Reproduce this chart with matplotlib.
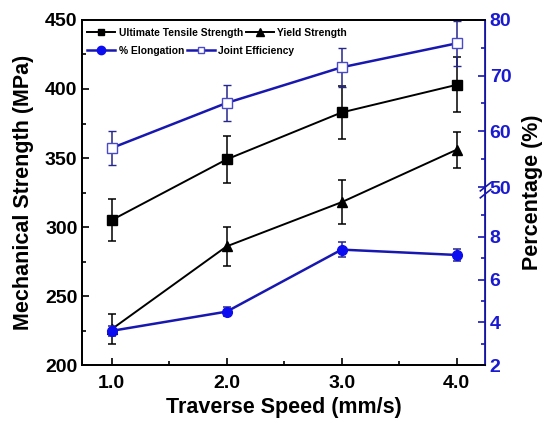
import numpy as np
import matplotlib
matplotlib.use("Agg")
import matplotlib.pyplot as plt
from matplotlib.lines import Line2D

plt.rcParams['font.family'] = ['Liberation Sans', 'DejaVu Sans']
plt.rcParams['font.weight'] = 'bold'
plt.rcParams['axes.labelweight'] = 'bold'

# data
speed = [1.0, 2.0, 3.0, 4.0]
uts = [305, 349, 383, 403]
uts_err = [15, 17, 19, 20]
ys = [226, 286, 318, 356]
ys_err = [11, 14, 16, 13]
elong = [3.6, 4.5, 7.4, 7.15]
elong_err = [0.25, 0.2, 0.35, 0.3]
je = [57.0, 65.1, 71.5, 75.8]
je_err = [3.0, 3.2, 3.5, 4.0]

BLUE = '#1818b0'
MARK_BLUE = '#0c0cf0'
ERR_BLUE = '#26268c'
TXT_BLUE = '#1a1ad2'

# broken right axis: 2-10 on the lower part, 50-80 on the upper part
brk_p = [-100, 2, 10, 50, 80, 200]
brk_v = [-2180.25, 0, 171, 178, 345, 1013]


def fwd(p):
    return np.interp(p, brk_p, brk_v)


def inv(v):
    return np.interp(v, brk_v, brk_p)


fig = plt.figure(figsize=(5.49, 4.25), dpi=100)
ax = fig.add_axes([0.150, 0.141, 0.733, 0.812])
ax2 = ax.twinx()

ebar_kw = dict(capsize=3.2, elinewidth=1.1, capthick=1.1)
ax.errorbar(speed, uts, yerr=uts_err, color='k', marker='s', ms=6.5, lw=1.4, **ebar_kw)
ax.errorbar(speed, ys, yerr=ys_err, color='k', marker='^', ms=7, lw=1.4, **ebar_kw)

ax2.set_yscale('function', functions=(fwd, inv))
ax2.errorbar(speed, elong, yerr=elong_err, color=BLUE, marker='o', ms=7,
             mfc=MARK_BLUE, mec=MARK_BLUE, ecolor=ERR_BLUE, lw=1.8, **ebar_kw)
ax2.errorbar(speed, je, yerr=je_err, color=BLUE, marker='s', ms=6.5, mfc='white',
             mec='#4a4ac8', mew=1.0, ecolor=ERR_BLUE, lw=1.8, **ebar_kw)

ax.set_xlim(0.745, 4.245)
ax.set_ylim(200, 450)
ax2.set_ylim(2, 80)

ax.set_xticks(speed)
ax.set_xticklabels(['1.0', '2.0', '3.0', '4.0'])
ax.set_xticks([1.5, 2.5, 3.5], minor=True)
ax.set_yticks(np.arange(200, 451, 50))
ax.set_yticks(np.arange(225, 450, 50), minor=True)
ax2.set_yticks([2, 4, 6, 8, 50, 60, 70, 80])
ax2.set_yticklabels(['2', '4', '6', '8', '50', '60', '70', '80'])
ax2.set_yticks([3, 5, 7, 9, 55, 65, 75], minor=True)
ax2.yaxis.set_minor_formatter(plt.NullFormatter())

ax.tick_params(which='both', direction='in', labelsize=14, width=1.2, top=False, right=False)
ax.tick_params(which='major', length=5)
ax.tick_params(which='minor', length=3)
ax.tick_params(axis='x', pad=7)
ax2.tick_params(which='both', direction='in', labelsize=14, width=1.2,
                color=BLUE, labelcolor=TXT_BLUE)
ax2.tick_params(which='major', length=5)
ax2.tick_params(which='minor', length=3)

for s in ['left', 'bottom', 'top']:
    ax.spines[s].set_linewidth(1.3)
    ax2.spines[s].set_linewidth(1.3)
ax2.spines['right'].set_color(BLUE)
ax2.spines['right'].set_linewidth(1.3)

ax.set_xlabel('Traverse Speed (mm/s)', fontsize=15.5, labelpad=4)
ax.set_ylabel('Mechanical Strength (MPa)', fontsize=15.5, labelpad=8)
ax2.set_ylabel('Percentage (%)', fontsize=15.5, labelpad=8)

# break marks on the right spine
yb = 175.5 / 345
for dy in (-0.012, 0.008):
    ax2.plot([0.989, 1.015], [yb + dy - 0.012, yb + dy + 0.012], color=BLUE,
             lw=1.2, transform=ax2.transAxes, clip_on=False)

# Origin-style two-row legend
h_uts = Line2D([], [], color='k', marker='s', ms=5, lw=1.4)
h_ys = Line2D([], [], color='k', marker='^', ms=6, lw=1.4)
h_el = Line2D([], [], color=BLUE, marker='o', ms=6, mfc=MARK_BLUE, mec=MARK_BLUE, lw=1.8)
h_je = Line2D([], [], color=BLUE, marker='s', ms=5, mfc='white', mec='#4a4ac8', lw=1.8)
leg_kw = dict(ncol=2, frameon=False, prop={'weight': 'bold', 'size': 7.4},
              handlelength=2.7, handletextpad=0.35, columnspacing=0.3,
              borderpad=0, borderaxespad=0, loc='center left')
leg1 = ax2.legend([h_uts, h_ys], ['Ultimate Tensile Strength', 'Yield Strength'],
                  bbox_to_anchor=(0.012, 0.962), **leg_kw)
ax2.add_artist(leg1)
ax2.legend([h_el, h_je], ['% Elongation', 'Joint Efficiency'],
           bbox_to_anchor=(0.012, 0.910), **leg_kw)

fig.savefig('out.png', dpi=100)
